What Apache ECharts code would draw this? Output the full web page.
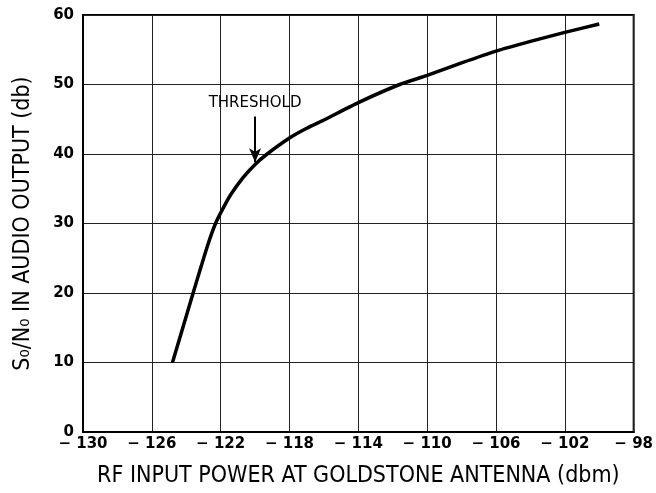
<!DOCTYPE html>
<html><head><meta charset="utf-8">
<script src="https://cdn.jsdelivr.net/npm/echarts@6/dist/echarts.min.js"></script>
<style>html,body{margin:0;padding:0;background:#fff}#c{width:656px;height:493px}</style>
</head><body><div id="c"></div>
<script>
const rfPower = [-124.8, -123.6, -122.75, -122.3, -121.9, -121.4, -120.7, -120.0, -119.3, -118.0, -117.0, -116.0, -114.0, -111.6, -110.0, -108.0, -106.0, -104.0, -102.0, -100.0];
const snr     = [10, 20, 26.9, 30, 32, 34.2, 36.6, 38.5, 40, 42.3, 43.7, 44.9, 47.4, 50, 51.3, 53.1, 54.8, 56.2, 57.5, 58.7];
const thresholdX = -120;
const thresholdArrow = [45.4, 38.8];
const thresholdLabel = 'THRESHOLD';
const xTitle = 'RF INPUT POWER AT GOLDSTONE ANTENNA (dbm)';
const yTitle = 'S\u2080/N\u2080 IN AUDIO OUTPUT (db)';

const chart = echarts.init(document.getElementById('c'));
const tickFont = {fontFamily: 'DejaVu Sans', fontWeight: 'bold', fontSize: 15, color: '#000'};
const titleFont = {fontFamily: '"DejaVu Sans Condensed", "Liberation Sans Narrow", "Liberation Sans", sans-serif', fontSize: 23, color: '#000'};
chart.setOption({
  animation: false,
  backgroundColor: '#fff',
  grid: {left: 83, right: 20, top: 15, bottom: 55, show: true, borderColor: '#000', borderWidth: 2},
  xAxis: {
    type: 'value', min: -130, max: -98, interval: 4,
    name: xTitle, nameLocation: 'middle', nameGap: 33,
    nameTextStyle: titleFont,
    axisLine: {lineStyle: {color: '#000', width: 2}},
    axisTick: {show: false},
    axisLabel: Object.assign({margin: 5, formatter: v => String(v).replace('-', '\u2212 ')}, tickFont),
    splitLine: {lineStyle: {color: '#222', width: 1}}
  },
  yAxis: {
    type: 'value', min: 0, max: 60, interval: 10,
    name: yTitle, nameLocation: 'middle', nameGap: 48,
    nameTextStyle: titleFont,
    axisLine: {show: true, lineStyle: {color: '#000', width: 2}},
    axisTick: {show: false},
    axisLabel: Object.assign({margin: 9}, tickFont),
    splitLine: {lineStyle: {color: '#222', width: 1}}
  },
  series: [{
    type: 'line',
    data: rfPower.map((x, i) => [x, snr[i]]),
    smooth: 0.2,
    showSymbol: false,
    lineStyle: {color: '#000', width: 3.5},
    markLine: {
      silent: true,
      symbol: ['none', 'arrow'],
      symbolSize: [9, 14],
      lineStyle: {color: '#000', width: 2, type: 'solid'},
      label: {show: true, position: 'start', formatter: thresholdLabel, fontFamily: 'DejaVu Sans', fontSize: 15, color: '#000', distance: 6},
      data: [[{coord: [thresholdX, thresholdArrow[0]]}, {coord: [thresholdX, thresholdArrow[1]]}]]
    }
  }]
});
</script></body></html>
